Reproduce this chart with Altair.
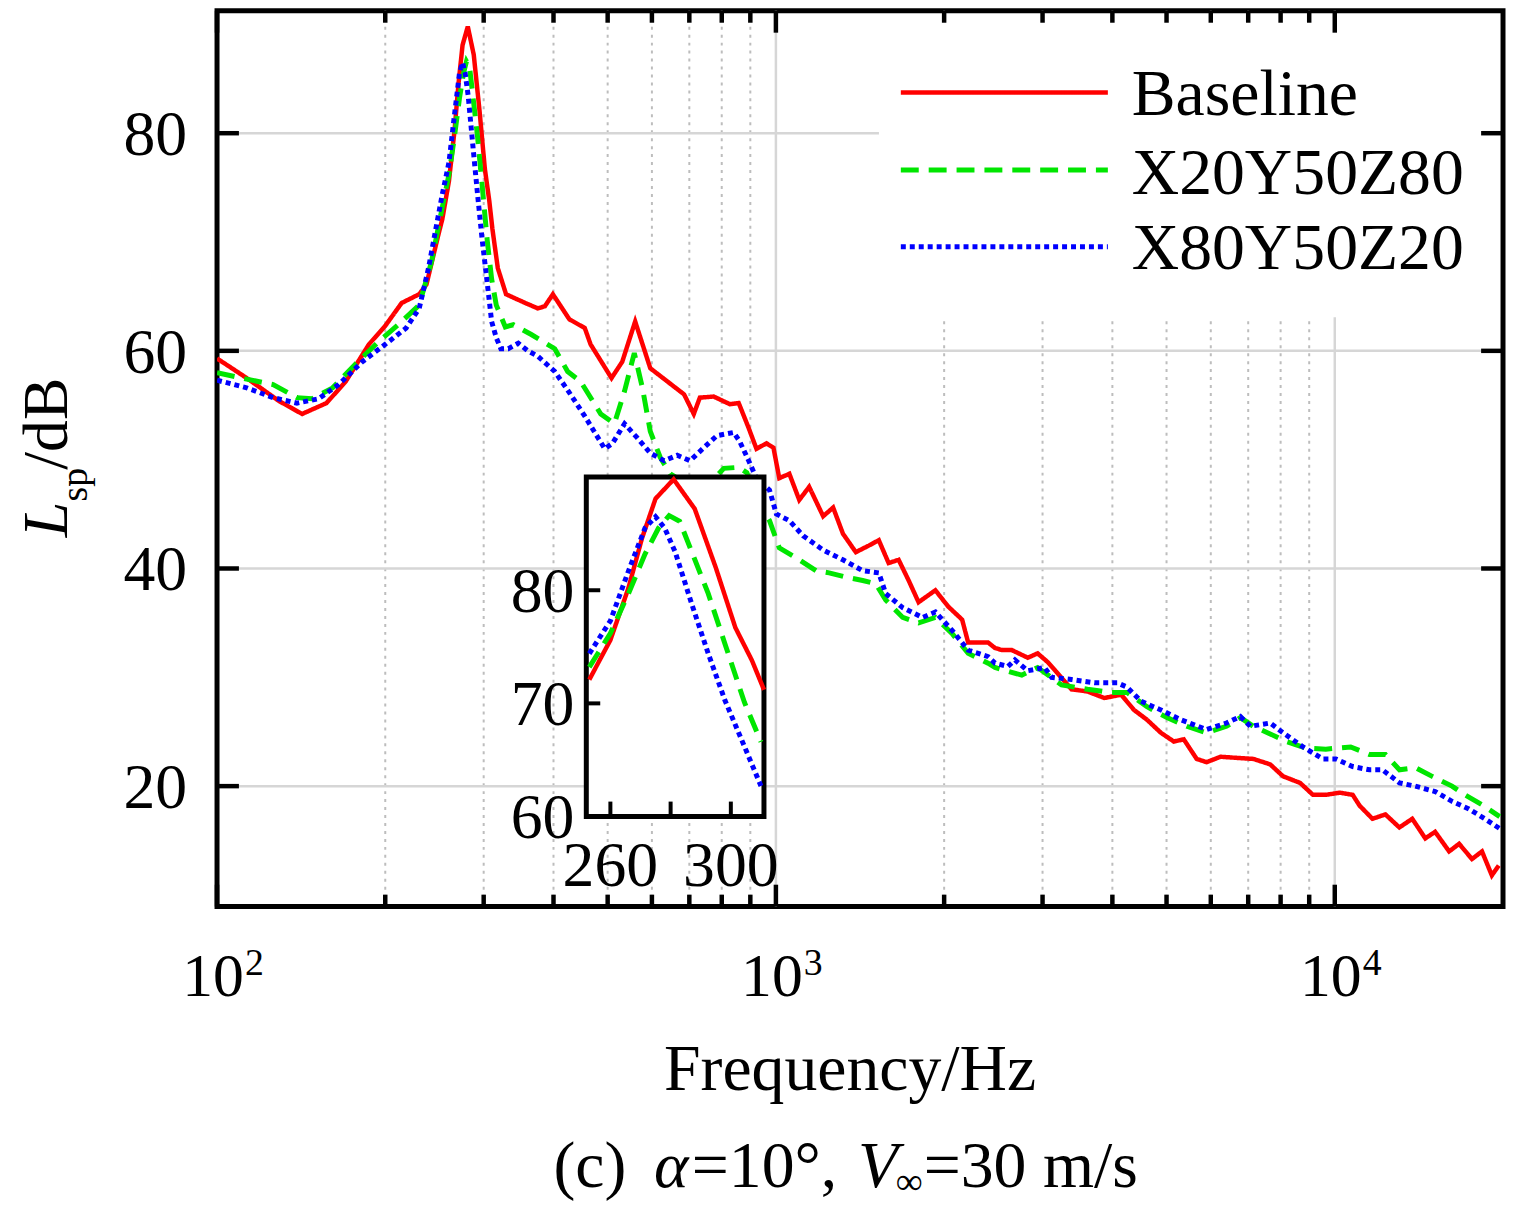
import altair as alt
import pandas as pd

# ---------------- data ----------------
series_names = ["Baseline", "X20Y50Z80", "X80Y50Z20"]
series_colors = ["#ff0000", "#00e600", "#0000ff"]

red_freq = [100, 113, 129, 142, 157, 170, 187, 200, 214, 230, 237, 249, 253, 260, 266, 270.5, 275, 281,
            288, 295, 301.5, 307, 311, 318, 329, 356, 375, 386, 399, 427, 455, 466, 508, 531, 560, 596,
            639, 685, 713, 731, 774, 827, 858, 894, 923, 962, 990, 1014, 1057, 1101, 1147, 1215, 1266,
            1318, 1390, 1466, 1528, 1591, 1658, 1728, 1800, 1929, 2034, 2154, 2208, 2397, 2466, 2538,
            2644, 2823, 2940, 3064, 3152, 3380, 3609, 3870, 4148, 4373, 4613, 4886, 5152, 5368, 5661,
            5897, 6245, 6668, 7150, 7663, 8084, 8667, 9140, 9638, 10207, 10765, 11080, 11680, 12320,
            13050, 13760, 14520, 15120, 16020, 16690, 17600, 18340, 19100, 19650]
red_db = [59.3, 57.5, 55.4, 54.2, 55.2, 57.2, 60.6, 62.3, 64.4, 65.2, 66.1, 70.7, 72.1, 75.6, 80.2, 84.6,
          88.1, 89.8, 87.2, 82.0, 76.7, 73.8, 71.2, 67.6, 65.2, 64.4, 63.9, 64.1, 65.2, 62.9, 62.1, 60.6,
          57.5, 59.0, 62.7, 58.4, 57.2, 56.0, 54.2, 55.7, 55.8, 55.1, 55.2, 52.9, 51.0, 51.5, 51.1, 48.3,
          48.7, 46.3, 47.5, 44.8, 45.6, 43.2, 41.5, 42.1, 42.6, 40.5, 40.8, 38.9, 36.9, 38.0, 36.5, 35.3,
          33.2, 33.2, 32.7, 32.5, 32.5, 31.8, 32.2, 31.4, 30.7, 28.9, 28.7, 28.1, 28.4, 27.0, 26.1, 24.9,
          24.1, 24.3, 22.5, 22.2, 22.7, 22.6, 22.5, 22.0, 20.9, 20.3, 19.2, 19.2, 19.4, 19.2, 18.2, 17.0,
          17.4, 16.2, 17.0, 15.2, 15.8, 14.0, 14.7, 13.3, 14.0, 11.8, 12.7]

green_freq = [100, 113, 126, 139, 148, 161, 177, 195, 211, 230, 242, 253, 260, 266, 271.5, 276, 279.5,
              283, 287, 292.5, 298, 304.5, 310, 316, 328, 339, 365, 402, 424, 447, 486, 514, 536, 558,
              577, 596, 621, 647, 702, 774, 807, 858, 887, 923, 974, 1014, 1101, 1180, 1245, 1335, 1430,
              1509, 1572, 1686, 1800, 1929, 2068, 2208, 2397, 2466, 2754, 2940, 3244, 3609, 3981, 4249,
              4613, 5008, 5434, 5897, 6400, 6778, 7150, 7663, 8184, 8882, 9638, 10677, 11540, 12321,
              13055, 13932, 14938, 16210, 17100, 18330, 19730]
green_db = [58.0, 57.4, 56.9, 55.7, 55.6, 56.6, 58.8, 60.9, 62.4, 64.2, 68.2, 73.2, 76.2, 79.7, 83.2,
            85.5, 86.6, 86.1, 83.4, 79.7, 75.3, 70.1, 66.6, 64.2, 62.2, 62.4, 61.5, 60.2, 58.1, 57.2,
            54.2, 53.3, 56.3, 59.8, 56.6, 52.6, 50.2, 48.7, 47.6, 48.2, 49.2, 49.3, 48.8, 46.5, 44.4,
            41.9, 40.8, 39.8, 39.6, 39.2, 38.9, 38.6, 37.1, 35.5, 35.0, 35.5, 34.0, 32.2, 31.3, 30.9,
            30.2, 30.9, 29.3, 28.9, 28.6, 28.6, 27.3, 26.3, 25.5, 24.9, 25.5, 26.3, 25.5, 24.8, 24.1,
            23.5, 23.4, 23.6, 22.9, 22.9, 21.5, 21.7, 20.9, 20.0, 19.2, 18.3, 17.2]

blue_freq = [100, 113, 126, 139, 152, 165, 182, 200, 218, 230, 239, 253, 260, 266, 271.5, 275, 278,
             281.5, 287, 292.5, 298, 304.5, 310, 316, 322, 332, 346, 360, 375, 402, 424, 455, 494, 510,
             536, 565, 596, 631, 666, 702, 743, 784, 840, 861, 894, 923, 974, 1002, 1057, 1119, 1215,
             1318, 1430, 1528, 1572, 1686, 1830, 1929, 2068, 2208, 2397, 2466, 2601, 2677, 2823, 3026,
             3114, 3380, 3714, 4080, 4249, 4501, 4886, 5303, 5897, 6400, 6778, 7062, 7663, 8084, 8774,
             9522, 10041, 10765, 11540, 12170, 13055, 13932, 15122, 16210, 17378, 18557, 19730]
blue_db = [57.3, 56.6, 55.7, 55.2, 55.6, 56.9, 59.0, 60.6, 62.1, 63.9, 67.6, 74.4, 77.3, 81.7, 85.5,
           86.5, 85.5, 83.4, 78.8, 74.4, 70.3, 66.2, 62.7, 61.2, 60.2, 60.2, 60.7, 60.0, 59.5, 58.1,
           56.4, 54.0, 51.0, 51.5, 53.3, 52.0, 50.6, 49.9, 50.4, 49.9, 51.1, 52.2, 52.5, 51.7, 49.9,
           48.3, 47.2, 45.0, 44.4, 43.0, 41.7, 40.8, 39.8, 39.6, 37.7, 36.4, 35.5, 36.0, 34.3, 32.5,
           31.9, 31.3, 31.0, 31.6, 30.6, 30.9, 30.0, 29.8, 29.5, 29.5, 29.1, 27.8, 27.0, 26.1, 25.2,
           25.8, 26.4, 25.5, 25.8, 24.9, 23.6, 22.5, 22.5, 21.8, 21.5, 21.5, 20.3, 20.0, 19.5, 18.6,
           17.9, 17.0, 16.1]

x_domain = [100, 20000]
y_domain = [8.93, 91.25]
x_major = [100, 1000, 10000]
x_major_mantissa = ["10", "10", "10"]
x_major_exponent = ["2", "3", "4"]
x_minor = [200, 300, 400, 500, 600, 700, 800, 900, 2000, 3000, 4000, 5000, 6000, 7000, 8000, 9000]
y_major = [20, 40, 60, 80]

inset_x_domain = [252, 311]
inset_y_domain = [60, 90]
inset_x_ticks = [260, 280, 300]
inset_x_labels = [260, 300]
inset_y_ticks = [70, 80]
inset_y_labels = [60, 70, 80]

# ---------------- layout ----------------
W, H = 1292, 900
FONT = "Liberation Serif"
INSET_X = [371, 549.5]
INSET_Y = [809.5, 468.5]
one = pd.DataFrame({"k": [0]})

xs = alt.Scale(type="log", domain=x_domain, nice=False)
ys = alt.Scale(domain=y_domain, nice=False, zero=False)
ixs = alt.Scale(domain=inset_x_domain, range=INSET_X, nice=False, zero=False)
iys = alt.Scale(domain=inset_y_domain, range=INSET_Y, nice=False, zero=False)

series = [
    (red_freq, red_db, series_names[0], series_colors[0], [1, 0], 4.5),
    (green_freq, green_db, series_names[1], series_colors[1], [18, 10], 5),
    (blue_freq, blue_db, series_names[2], series_colors[2], [5, 4], 5),
]

# ---------------- main panel ----------------
grid_minor = alt.Chart(pd.DataFrame({"v": x_minor})).mark_rule(
    color="#bdbdbd", strokeWidth=2, strokeDash=[3, 5]).encode(x=alt.X("v:Q", scale=xs, axis=None))
grid_major_x = alt.Chart(pd.DataFrame({"v": x_major[1:]})).mark_rule(
    color="#d6d6d6", strokeWidth=2.5).encode(x=alt.X("v:Q", scale=xs, axis=None))
grid_y = alt.Chart(pd.DataFrame({"v": y_major})).mark_rule(
    color="#d6d6d6", strokeWidth=2.5).encode(y=alt.Y("v:Q", scale=ys, axis=None))

layers = [grid_minor, grid_major_x, grid_y]
for fq, db, name, col, dash, sw in series:
    df = pd.DataFrame({"freq": fq, "level": db, "series": name})
    layers.append(
        alt.Chart(df).mark_line(color=col, strokeDash=dash, strokeWidth=sw, clip=True).encode(
            x=alt.X("freq:Q", scale=xs, axis=None),
            y=alt.Y("level:Q", scale=ys, axis=None),
            order="freq:Q",
        )
    )

# legend (white box, line samples, labels)
layers.append(alt.Chart(one).mark_rect(fill="white").encode(
    x=alt.value(665), x2=alt.value(W - 3), y=alt.value(14), y2=alt.value(308)))
leg_y = [82, 160, 237]
leg_base = [105, 184, 259]
for (fq, db, name, col, dash, sw), ly, lb in zip(series, leg_y, leg_base):
    layers.append(alt.Chart(one).mark_rule(color=col, strokeDash=dash, strokeWidth=sw).encode(
        x=alt.value(687), x2=alt.value(895), y=alt.value(ly)))
    layers.append(alt.Chart(one).mark_text(text=name, font=FONT, fontSize=66, color="black",
                                           align="left", baseline="alphabetic").encode(
        x=alt.value(919), y=alt.value(lb)))

# inward ticks
tick_w = 4.5
layers.append(alt.Chart(pd.DataFrame({"v": x_major})).mark_rule(color="black", strokeWidth=tick_w).encode(
    x=alt.X("v:Q", scale=xs, axis=None), y=alt.value(H), y2=alt.value(H - 22)))
layers.append(alt.Chart(pd.DataFrame({"v": x_major})).mark_rule(color="black", strokeWidth=tick_w).encode(
    x=alt.X("v:Q", scale=xs, axis=None), y=alt.value(0), y2=alt.value(22)))
layers.append(alt.Chart(pd.DataFrame({"v": x_minor})).mark_rule(color="black", strokeWidth=tick_w).encode(
    x=alt.X("v:Q", scale=xs, axis=None), y=alt.value(H), y2=alt.value(H - 12)))
layers.append(alt.Chart(pd.DataFrame({"v": x_minor})).mark_rule(color="black", strokeWidth=tick_w).encode(
    x=alt.X("v:Q", scale=xs, axis=None), y=alt.value(0), y2=alt.value(12)))
layers.append(alt.Chart(pd.DataFrame({"v": y_major})).mark_rule(color="black", strokeWidth=tick_w).encode(
    y=alt.Y("v:Q", scale=ys, axis=None), x=alt.value(0), x2=alt.value(22)))
layers.append(alt.Chart(pd.DataFrame({"v": y_major})).mark_rule(color="black", strokeWidth=tick_w).encode(
    y=alt.Y("v:Q", scale=ys, axis=None), x=alt.value(W - 22), x2=alt.value(W)))

# tick labels (placed through the scales)
xlab = pd.DataFrame({"v": x_major, "m": x_major_mantissa, "e": x_major_exponent})
layers.append(alt.Chart(xlab).mark_text(
    font=FONT, fontSize=62, color="black", align="center", baseline="alphabetic", dx=-4).encode(
    x=alt.X("v:Q", scale=xs, axis=None), y=alt.value(H + 90), text="m:N"))
layers.append(alt.Chart(xlab).mark_text(
    font=FONT, fontSize=38, color="black", align="left", baseline="alphabetic", dx=28).encode(
    x=alt.X("v:Q", scale=xs, axis=None), y=alt.value(H + 69), text="e:N"))
layers.append(alt.Chart(pd.DataFrame({"v": y_major})).mark_text(
    font=FONT, fontSize=64, color="black", align="right", baseline="alphabetic", dy=22).encode(
    y=alt.Y("v:Q", scale=ys, axis=None), x=alt.value(-30), text="v:Q"))

# text: y title, x title, caption
def txt(s, x, y, size=66, italic=False, angle=0, align="left"):
    kw = dict(text=s, font=FONT, fontSize=size, color="black", align=align, baseline="alphabetic")
    if italic:
        kw["fontStyle"] = "italic"
    if angle:
        kw["angle"] = angle
    return alt.Chart(one).mark_text(**kw).encode(x=alt.value(x), y=alt.value(y))

layers += [
    txt("L", -151, 529, size=64, italic=True, angle=270),
    txt("sp", -131, 493, size=38, angle=270),
    txt("/dB", -151, 461, size=64, angle=270),
    txt("Frequency/Hz", 636, 1084, align="center"),
    txt("(c)", 338, 1182),
    txt("α", 439, 1182, italic=True),
    txt("=10°,", 477, 1182),
    txt("V", 644, 1182, italic=True),
    txt("∞", 682, 1189, size=38),
    txt("=30 m/s", 710, 1182),
]

main = alt.layer(*layers)

# ---------------- inset ----------------
inset_layers = [
    alt.Chart(pd.DataFrame({"x0": [inset_x_domain[0]], "x1": [inset_x_domain[1]],
                            "y0": [inset_y_domain[0]], "y1": [inset_y_domain[1]]}))
    .mark_rect(fill="white", stroke="black", strokeWidth=5)
    .encode(x=alt.X("x0:Q", scale=ixs, axis=None), x2="x1:Q",
            y=alt.Y("y0:Q", scale=iys, axis=None), y2="y1:Q")
]
for fq, db, name, col, dash, sw in series:
    df = pd.DataFrame({"freq": fq, "level": db, "series": name})
    inset_layers.append(
        alt.Chart(df).transform_filter(
            (alt.datum.freq >= inset_x_domain[0]) & (alt.datum.freq <= inset_x_domain[1])
        ).mark_line(color=col, strokeDash=dash, strokeWidth=sw).encode(
            x=alt.X("freq:Q", scale=ixs, axis=None),
            y=alt.Y("level:Q", scale=iys, axis=None),
            order="freq:Q",
        )
    )
inset_layers.append(alt.Chart(pd.DataFrame({"v": inset_x_ticks})).mark_rule(color="black", strokeWidth=4).encode(
    x=alt.X("v:Q", scale=ixs, axis=None), y=alt.value(INSET_Y[0]), y2=alt.value(INSET_Y[0] - 15)))
inset_layers.append(alt.Chart(pd.DataFrame({"v": inset_y_ticks})).mark_rule(color="black", strokeWidth=4).encode(
    y=alt.Y("v:Q", scale=iys, axis=None), x=alt.value(INSET_X[0]), x2=alt.value(INSET_X[0] + 14)))
inset_layers.append(alt.Chart(pd.DataFrame({"v": inset_x_labels})).mark_text(
    font=FONT, fontSize=64, color="black", align="center", baseline="alphabetic").encode(
    x=alt.X("v:Q", scale=ixs, axis=None), y=alt.value(INSET_Y[0] + 70), text="v:Q"))
inset_layers.append(alt.Chart(pd.DataFrame({"v": inset_y_labels})).mark_text(
    font=FONT, fontSize=64, color="black", align="right", baseline="alphabetic", dy=22).encode(
    y=alt.Y("v:Q", scale=iys, axis=None), x=alt.value(INSET_X[0] - 12), text="v:Q"))
inset = alt.layer(*inset_layers)

chart = (
    alt.layer(main, inset)
    .resolve_scale(x="independent", y="independent")
    .properties(width=W, height=H, padding={"left": 210, "top": 0, "right": 3, "bottom": 297},
                autosize=alt.AutoSizeParams(type="none"))
    .configure(font=FONT)
    .configure_view(stroke="black", strokeWidth=5)
)

chart.save("out.html", embed_options={"renderer": "svg", "actions": False})
